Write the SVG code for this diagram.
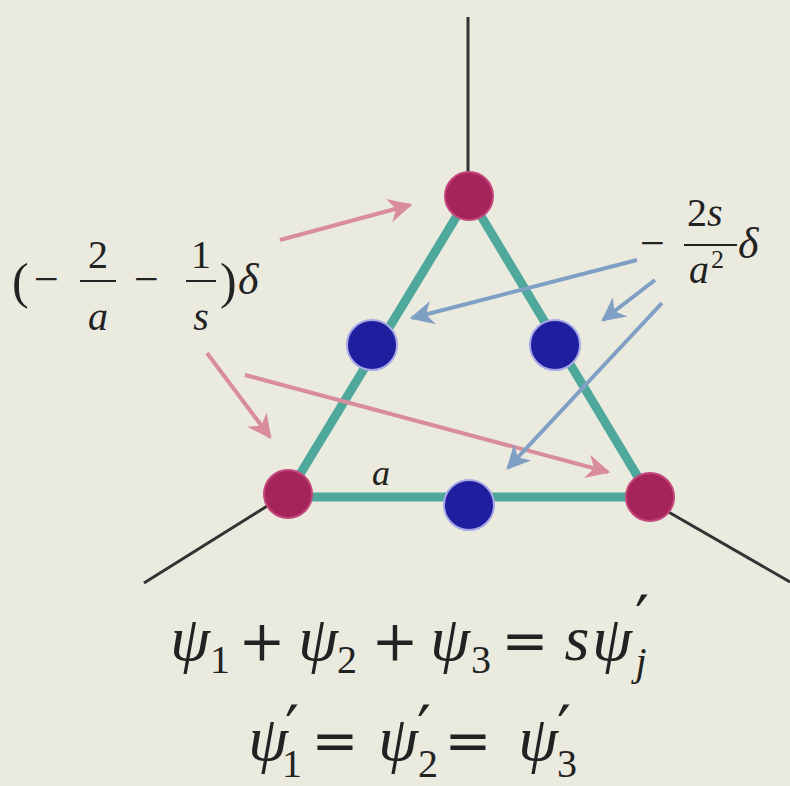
<svg xmlns="http://www.w3.org/2000/svg" width="790" height="786" viewBox="0 0 790 786">
<defs>
<style>
.t{font-family:"Liberation Serif","DejaVu Serif",serif;fill:#222;}
.d{font-family:"DejaVu Serif","Liberation Serif",serif;fill:#222;}
.i{font-style:italic;}
.big{font-size:64px;}
.op{font-size:56px;}
.sub{font-size:40px;}
.pr{font-family:"DejaVu Sans","Liberation Sans",sans-serif;font-size:62px;fill:#222;}
.edge{stroke:#4ea89c;stroke-width:9;stroke-linecap:round;fill:none;}
.leg{stroke:#333;stroke-width:3;fill:none;}
.pa{stroke:#d98c9c;stroke-width:4;fill:none;marker-end:url(#mp);}
.ba{stroke:#7f9fc4;stroke-width:4;fill:none;marker-end:url(#mb);}
.rn{fill:#a5245a;stroke:#c4467a;stroke-width:2;}
.bn{fill:#1e1e9e;stroke:#a8a8e8;stroke-width:2;}
.bar{stroke:#222;stroke-width:2;}
</style>
<marker id="mp" viewBox="0 0 10 10" refX="9" refY="5" markerWidth="6" markerHeight="6" orient="auto" markerUnits="strokeWidth"><path d="M0,0 L10,5 L0,10 L3,5 z" fill="#d98c9c"/></marker>
<marker id="mb" viewBox="0 0 10 10" refX="9" refY="5" markerWidth="6" markerHeight="6" orient="auto" markerUnits="strokeWidth"><path d="M0,0 L10,5 L0,10 L3,5 z" fill="#7f9fc4"/></marker>
</defs>
<rect width="790" height="786" fill="#ebeadf"/>
<g id="connectors">
<line class="leg" x1="468" y1="17" x2="468" y2="180"/>
<line class="leg" x1="272" y1="503" x2="144" y2="583"/>
<line class="leg" x1="665" y1="510" x2="790" y2="582"/>
<line class="edge" x1="469" y1="196" x2="288" y2="494"/>
<line class="edge" x1="469" y1="196" x2="650" y2="497"/>
<line class="edge" x1="288" y1="497" x2="650" y2="497"/>
<line class="pa" x1="280" y1="240" x2="410" y2="205"/>
<line class="pa" x1="207" y1="353" x2="270" y2="437"/>
<line class="pa" x1="245" y1="375" x2="608" y2="472"/>
<line class="ba" x1="637" y1="260" x2="412" y2="318"/>
<line class="ba" x1="655" y1="280" x2="603" y2="320"/>
<line class="ba" x1="662" y1="303" x2="508" y2="468"/>
</g>
<g id="n-top"><circle class="rn" cx="469" cy="196" r="24"/></g>
<g id="n-bl"><circle class="rn" cx="288" cy="494" r="24"/></g>
<g id="n-br"><circle class="rn" cx="650" cy="497" r="24"/></g>
<g id="n-ml"><circle class="bn" cx="372" cy="345" r="25"/></g>
<g id="n-mr"><circle class="bn" cx="555" cy="345" r="25"/></g>
<g id="n-mb"><circle class="bn" cx="469" cy="505" r="25"/></g>
<g id="label-left">
<text class="t" x="12" y="298" font-size="50">(</text>
<text class="t" x="34" y="294" font-size="44">−</text>
<text class="t" x="98" y="268" font-size="40" text-anchor="middle">2</text>
<line class="bar" x1="80" y1="281" x2="116" y2="281"/>
<text class="t i" x="98" y="330" font-size="40" text-anchor="middle">a</text>
<text class="t" x="134" y="294" font-size="44">−</text>
<text class="t" x="201" y="268" font-size="40" text-anchor="middle">1</text>
<line class="bar" x1="186" y1="281" x2="216" y2="281"/>
<text class="t i" x="201" y="330" font-size="40" text-anchor="middle">s</text>
<text class="t" x="220" y="298" font-size="50">)</text>
<text class="t i" x="238" y="294" font-size="44">δ</text>
</g>
<g id="label-right">
<text class="t" x="640" y="258" font-size="44">−</text>
<text class="t" x="687" y="226" font-size="40">2<tspan class="i">s</tspan></text>
<line class="bar" x1="684" y1="245" x2="737" y2="245"/>
<text class="t i" x="689" y="283" font-size="40">a</text>
<text class="t" x="711" y="268" font-size="26">2</text>
<text class="t i" x="738" y="258" font-size="44">δ</text>
</g>
<g id="label-a"><text class="t i" x="372" y="485" font-size="36">a</text></g>
<g id="eq1" text-anchor="middle">
<text class="t i big" x="190" y="660">ψ</text><text class="t sub" x="220" y="673">1</text>
<text class="d op" x="262" y="660">+</text>
<text class="t i big" x="318" y="660">ψ</text><text class="t sub" x="347" y="673">2</text>
<text class="d op" x="395" y="660">+</text>
<text class="t i big" x="450" y="660">ψ</text><text class="t sub" x="481" y="673">3</text>
<text class="d op" x="525" y="660">=</text>
<text class="t i big" x="577" y="660">s</text>
<text class="t i big" x="612" y="660">ψ</text><text class="pr" x="642" y="640">′</text><text class="t i sub" x="641" y="675">j</text>
</g>
<g id="eq2" text-anchor="middle">
<text class="t i big" x="268" y="760">ψ</text><text class="pr" x="292" y="750">′</text><text class="t sub" x="292" y="777">1</text>
<text class="d op" x="335" y="760">=</text>
<text class="t i big" x="398" y="760">ψ</text><text class="pr" x="424" y="750">′</text><text class="t sub" x="428" y="777">2</text>
<text class="d op" x="468" y="760">=</text>
<text class="t i big" x="538" y="760">ψ</text><text class="pr" x="564" y="750">′</text><text class="t sub" x="567" y="777">3</text>
</g>
</svg>
